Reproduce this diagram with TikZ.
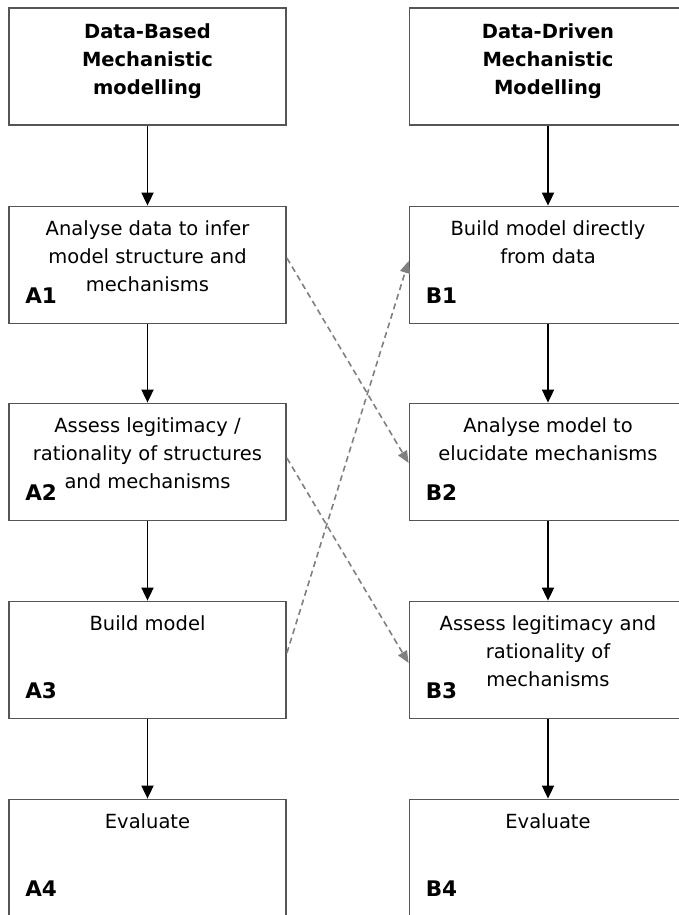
\documentclass[tikz,border=0pt]{standalone}
\usepackage{fontspec}
\setmainfont{DejaVu Sans}
\usetikzlibrary{arrows.meta}
\definecolor{boxgray}{RGB}{85,85,85}
\definecolor{dashgray}{RGB}{128,128,128}
\begin{document}
\begin{tikzpicture}[x=1pt,y=-1pt,
  box/.style={draw=boxgray, line width=1.8pt, minimum width=277pt, minimum height=117pt, inner sep=0pt},
  txt/.style={anchor=north, align=center, inner sep=0pt, font=\fontsize{19.5}{28}\selectfont},
  head/.style={txt, font=\fontsize{19.5}{28}\selectfont\bfseries},
  lab/.style={anchor=base west, inner sep=0pt, font=\fontsize{21.5}{24}\selectfont\bfseries},
  flow/.style={draw=black, line width=1.8pt, -{Triangle[length=13pt,width=12pt]}},
  cross/.style={draw=dashgray, line width=1.6pt, dash pattern=on 6pt off 4pt, -{Triangle[length=12pt,width=10pt,fill=dashgray]}}
]
\useasboundingbox (0,0) rectangle (679,915);
\begin{scope}
\clip (0,0) rectangle (679,915);
% left column
\node[box] (h1) at (147.5,66.5) {};
\node[box] (a1) at (147.5,265) {};
\node[box] (a2) at (147.5,462) {};
\node[box] (a3) at (147.5,660) {};
\node[box] (a4) at (147.5,858) {};
% right column
\node[box] (h2) at (548,66.5) {};
\node[box] (b1) at (548,265) {};
\node[box] (b2) at (548,462) {};
\node[box] (b3) at (548,660) {};
\node[box] (b4) at (548,858) {};
\end{scope}
% texts
\node[head] (h1t) at ([yshift=-16pt]h1.north) {Data-Based\\Mechanistic\\modelling};
\node[head] (h2t) at ([yshift=-16pt]h2.north) {Data-Driven\\Mechanistic\\Modelling};
\node[txt] (a1t) at ([yshift=-15pt]a1.north) {Analyse data to infer\\model structure and\\mechanisms};
\node[txt] (a2t) at ([yshift=-15pt]a2.north) {Assess legitimacy /\\rationality of structures\\and mechanisms};
\node[txt] (a3t) at ([yshift=-15pt]a3.north) {Build model};
\node[txt] (a4t) at ([yshift=-15pt]a4.north) {Evaluate};
\node[txt] (b1t) at ([yshift=-15pt]b1.north) {Build model directly\\from data};
\node[txt] (b2t) at ([yshift=-15pt]b2.north) {Analyse model to\\elucidate mechanisms};
\node[txt] (b3t) at ([yshift=-15pt]b3.north) {Assess legitimacy and\\rationality of\\mechanisms};
\node[txt] (b4t) at ([yshift=-15pt]b4.north) {Evaluate};
% labels
\node[lab] (a1l) at ([xshift=17pt,yshift=-98pt]a1.north west) {A1};
\node[lab] (a2l) at ([xshift=17pt,yshift=-98pt]a2.north west) {A2};
\node[lab] (a3l) at ([xshift=17pt,yshift=-98pt]a3.north west) {A3};
\node[lab] (a4l) at ([xshift=17pt,yshift=-98pt]a4.north west) {A4};
\node[lab] (b1l) at ([xshift=17pt,yshift=-98pt]b1.north west) {B1};
\node[lab] (b2l) at ([xshift=17pt,yshift=-98pt]b2.north west) {B2};
\node[lab] (b3l) at ([xshift=17pt,yshift=-98pt]b3.north west) {B3};
\node[lab] (b4l) at ([xshift=17pt,yshift=-98pt]b4.north west) {B4};
% flow arrows
\draw[flow] (h1.south) -- (a1.north);
\draw[flow] (a1.south) -- (a2.north);
\draw[flow] (a2.south) -- (a3.north);
\draw[flow] (a3.south) -- (a4.north);
\draw[flow] (h2.south) -- (b1.north);
\draw[flow] (b1.south) -- (b2.north);
\draw[flow] (b2.south) -- (b3.north);
\draw[flow] (b3.south) -- (b4.north);
% cross arrows
\draw[cross] ([yshift=7pt]a1.east) -- ([yshift=-1pt]b2.west);
\draw[cross] ([yshift=4pt]a2.east) -- ([yshift=-3pt]b3.west);
\draw[cross] ([yshift=7pt]a3.east) -- ([yshift=4pt]b1.west);
\end{tikzpicture}
\end{document}
